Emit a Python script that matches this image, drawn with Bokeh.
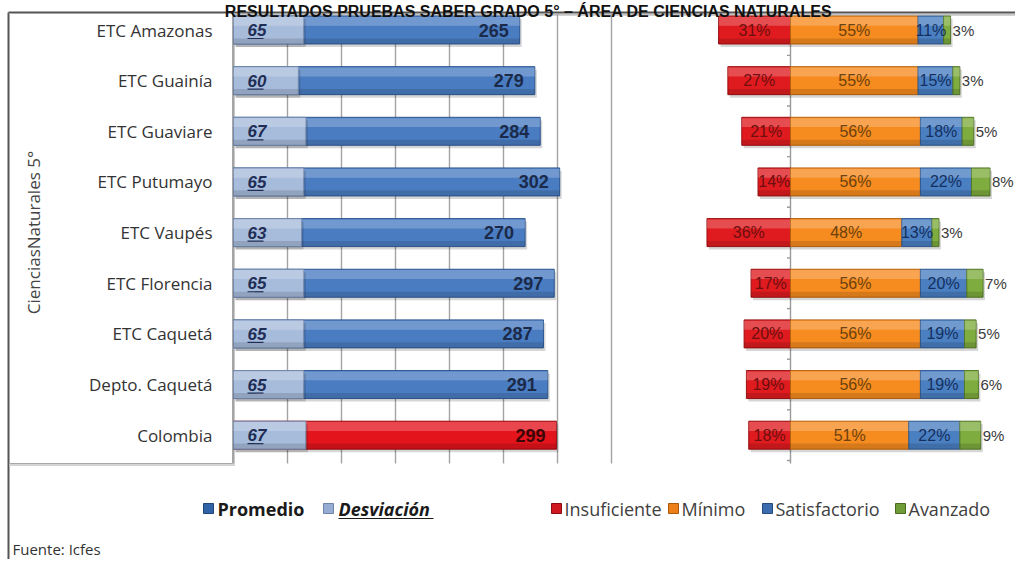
import math
from bokeh.plotting import figure
from bokeh.models import Range1d, Label
from bokeh.core.properties import value
from bokeh.embed import file_html
from bokeh.resources import INLINE

# ---------------- data ----------------
categories = ["ETC Amazonas", "ETC Guainía", "ETC Guaviare", "ETC Putumayo", "ETC Vaupés",
              "ETC Florencia", "ETC Caquetá", "Depto. Caquetá", "Colombia"]
promedio = [265, 279, 284, 302, 270, 297, 287, 291, 299]
desviacion = [65, 60, 67, 65, 63, 65, 65, 65, 67]
insuficiente = [31, 27, 21, 14, 36, 17, 20, 19, 18]
minimo = [55, 55, 56, 56, 48, 56, 56, 56, 51]
satisfactorio = [11, 15, 18, 22, 13, 20, 19, 19, 22]
avanzado = [3, 3, 5, 8, 3, 7, 5, 6, 9]
score_gridlines = [0, 50, 100, 150, 200, 250, 300, 350]
title_text = "RESULTADOS PRUEBAS SABER GRADO 5° – ÁREA DE CIENCIAS NATURALES"
y_title = "CienciasNaturales 5°"
source_note = "Fuente: Icfes"
left_legend = ["Promedio", "Desviación"]
right_legend = ["Insuficiente", "Mínimo", "Satisfactorio", "Avanzado"]

# ---------------- geometry (reference pixels) ----------------
ORIGIN = 0
FIG_W, FIG_H = 1015, 559
SCORE0_PX, SCORE_PX = 233.0, 1.08     # score axis: 0 at x=233, 1.08 px per point
PCT0_PX, PCT_PX = 790.0, 2.32         # percent axis: 0 at x=790, 2.32 px per %
ROW0_PX, ROW_PX = 29.5, 50.65         # first row centre and row spacing
n = len(categories)
ys = [n - 1 - i for i in range(n)]


def sx(px):
    return (px - SCORE0_PX) / SCORE_PX


def qx(px):
    return (px - PCT0_PX) / PCT_PX


def sy(py):
    return (n - 1) - (py - ROW0_PX) / ROW_PX


OPEN = value("Open Sans")
NARROW = value("Liberation Sans Narrow, Liberation Sans, Arial Narrow, sans-serif")

p = figure(width=FIG_W, height=FIG_H,
           x_range=Range1d(sx(ORIGIN), sx(ORIGIN + FIG_W)),
           y_range=Range1d(sy(ORIGIN + FIG_H), sy(ORIGIN)),
           output_backend="svg", toolbar_location=None, min_border=0,
           x_axis_location=None, y_axis_location=None,
           outline_line_color=None, background_fill_color="white",
           border_fill_color="white")
p.extra_x_ranges = {"pct": Range1d(qx(ORIGIN), qx(ORIGIN + FIG_W))}
p.grid.visible = False

BH = 28.0 / ROW_PX  # bar thickness in row units

# ---------------- frame decorations ----------------
p.segment(x0=[sx(8)], y0=[sy(14.2)], x1=[sx(1023)], y1=[sy(14.2)], line_color="#c4c4c4", line_width=2)
p.segment(x0=[sx(8)], y0=[sy(12)], x1=[sx(1023)], y1=[sy(12)], line_color="#555555", line_width=2)
p.segment(x0=[sx(8)], y0=[sy(12)], x1=[sx(8)], y1=[sy(567)], line_color="#555555", line_width=2)

p.quad(left=[sx(9)], right=[sx(234.5)], top=[sy(13)], bottom=[sy(465.5)], fill_color="#d4d4d4", line_color=None)
p.quad(left=[sx(9)], right=[sx(232)], top=[sy(13)], bottom=[sy(463)], fill_color="white",
       line_color="#a8a8a8", line_width=1)

p.segment(x0=score_gridlines, y0=[sy(13)] * len(score_gridlines),
          x1=score_gridlines, y1=[sy(463)] * len(score_gridlines),
          line_color="#a3a3a3", line_width=1.4)

p.segment(x0=[0], y0=[sy(13)], x1=[0], y1=[sy(463)], line_color="#9a9a9a", line_width=1.4, x_range_name="pct")
p.segment(x0=[qx(786.5)] * n, y0=[y - 0.5 for y in ys], x1=[0] * n, y1=[y - 0.5 for y in ys],
          line_color="#9a9a9a", line_width=1.4, x_range_name="pct")


def glossy(lefts, rights, colors, edges, ppu, rname="default"):
    dx = 2.0 / ppu
    dy = 3.0 / ROW_PX
    p.hbar(y=[y - dy for y in ys], left=[l + dx for l in lefts], right=[r + dx for r in rights],
           height=BH, fill_color="#000000", fill_alpha=0.16, line_color=None, x_range_name=rname)
    p.hbar(y=ys, left=lefts, right=rights, height=BH, fill_color=colors,
           line_color=edges, line_width=1, x_range_name=rname)
    p.hbar(y=[y + 0.31 * BH for y in ys], left=lefts, right=rights, height=0.32 * BH,
           fill_color="white", fill_alpha=0.22, line_color=None, x_range_name=rname)
    p.hbar(y=[y - 0.40 * BH for y in ys], left=lefts, right=rights, height=0.2 * BH,
           fill_color="black", fill_alpha=0.13, line_color=None, x_range_name=rname)


# ---------------- left chart: Promedio & Desviación ----------------
prom_colors = ["#4a7cc2"] * (n - 1) + ["#e3141c"]
prom_edges = ["#2d568f"] * (n - 1) + ["#9c0d12"]
glossy([0] * n, promedio, prom_colors, prom_edges, SCORE_PX)
glossy([0] * n, desviacion, ["#a7bcdb"] * n, ["#7489ad"] * n, SCORE_PX)

prom_label_colors = ["#1b2a48"] * (n - 1) + ["#3c0606"]
p.text(x=promedio, y=ys, text=[str(v) for v in promedio], x_offset=-11,
       text_align="right", text_baseline="middle", text_font=NARROW,
       text_font_style="bold", text_font_size="18px", text_color=prom_label_colors)
p.text(x=[0] * n, y=ys, text=[str(v) for v in desviacion], x_offset=14,
       text_align="left", text_baseline="middle", text_font=NARROW,
       text_font_style="bold italic", text_font_size="17px", text_color="#1f2d55")
p.segment(x0=[sx(247)] * n, y0=[y - 8.5 / ROW_PX for y in ys], x1=[sx(263)] * n,
          y1=[y - 8.5 / ROW_PX for y in ys], line_color="#1f2d55", line_width=1.2)

p.text(x=[sx(212)] * n, y=ys, text=categories, text_align="right", text_baseline="middle",
       text_font=OPEN, text_font_size="17px", text_color="#333333")
p.text(x=[sx(33)], y=[sy(232)], text=[y_title], angle=math.pi / 2, text_align="center",
       text_baseline="middle", text_font=OPEN, text_font_size="17px", text_color="#444444")

# ---------------- right chart: performance levels ----------------
ins_left = [-v for v in insuficiente]
min_right = minimo
sat_right = [m + s for m, s in zip(minimo, satisfactorio)]
avz_right = [m + s + a for m, s, a in zip(minimo, satisfactorio, avanzado)]

glossy(ins_left, [0] * n, ["#df1b1f"] * n, ["#9a1013"] * n, PCT_PX, "pct")
glossy([0] * n, min_right, ["#f68b1f"] * n, ["#b8620e"] * n, PCT_PX, "pct")
glossy(min_right, sat_right, ["#4a7fc1"] * n, ["#2e5a92"] * n, PCT_PX, "pct")
glossy(sat_right, avz_right, ["#7eac3e"] * n, ["#55782a"] * n, PCT_PX, "pct")

pct_kw = dict(text_baseline="middle", text_font=NARROW, text_font_size="16px", x_range_name="pct")
p.text(x=[-v / 2 for v in insuficiente], y=ys, text=[f"{v}%" for v in insuficiente],
       text_align="center", text_color="#6d0f0f", **pct_kw)
p.text(x=[v / 2 for v in minimo], y=ys, text=[f"{v}%" for v in minimo],
       text_align="center", text_color="#6b4210", **pct_kw)
p.text(x=[m + s / 2 for m, s in zip(minimo, satisfactorio)], y=ys,
       text=[f"{v}%" for v in satisfactorio], text_align="center", text_color="#15305f", **pct_kw)
p.text(x=avz_right, y=ys, text=[f"{v}%" for v in avanzado], x_offset=2,
       text_align="left", text_baseline="middle", text_font=NARROW, text_font_size="15px",
       text_color="#3a3a3a", x_range_name="pct")

# ---------------- legends ----------------
LEG_Y = 508
sq = 5.0
left_leg_sq = [203, 323]
left_leg_colors = ["#2f62a6", "#96acd2"]
p.quad(left=[sx(x) for x in left_leg_sq], right=[sx(x + 2 * sq) for x in left_leg_sq],
       top=[sy(LEG_Y - sq)] * 2, bottom=[sy(LEG_Y + sq)] * 2,
       fill_color=left_leg_colors, line_color=["#1f4478", "#6e84aa"])
p.text(x=[sx(217)], y=[sy(LEG_Y)], text=[left_legend[0]], text_align="left", text_baseline="middle",
       text_font=OPEN, text_font_style="bold", text_font_size="18px", text_color="#1a1a1a")
p.text(x=[sx(338)], y=[sy(LEG_Y)], text=[left_legend[1]], text_align="left", text_baseline="middle",
       text_font=OPEN, text_font_style="bold italic", text_font_size="18px", text_color="#1a1a1a")
p.segment(x0=[sx(338)], y0=[sy(LEG_Y + 10)], x1=[sx(433)], y1=[sy(LEG_Y + 10)],
          line_color="#1a1a1a", line_width=1.2)

right_leg_sq = [551, 668, 762, 895]
right_leg_colors = ["#d01820", "#ec7f18", "#3c6cad", "#6f9c36"]
right_leg_edges = ["#8a0c10", "#a8580c", "#264a7c", "#4a6a22"]
p.quad(left=[sx(x) for x in right_leg_sq], right=[sx(x + 2 * sq) for x in right_leg_sq],
       top=[sy(LEG_Y - sq)] * 4, bottom=[sy(LEG_Y + sq)] * 4,
       fill_color=right_leg_colors, line_color=right_leg_edges)
p.text(x=[sx(x + 2 * sq + 3) for x in right_leg_sq], y=[sy(LEG_Y)] * 4, text=right_legend,
       text_align="left", text_baseline="middle", text_font=OPEN, text_font_size="18px",
       text_color="#404040")

p.text(x=[sx(12)], y=[sy(548)], text=[source_note], text_align="left", text_baseline="middle",
       text_font=OPEN, text_font_size="15px", text_color="#333333")

# title sitting on the top edge, as in the reference
p.add_layout(Label(x=sx(528), y=sy(11), text=title_text, text_align="center",
                   text_baseline="alphabetic", text_font="Liberation Sans", text_font_style="bold",
                   text_font_size="16px", text_color="#111111"))

open("out.html", "w").write(file_html(p, INLINE))
